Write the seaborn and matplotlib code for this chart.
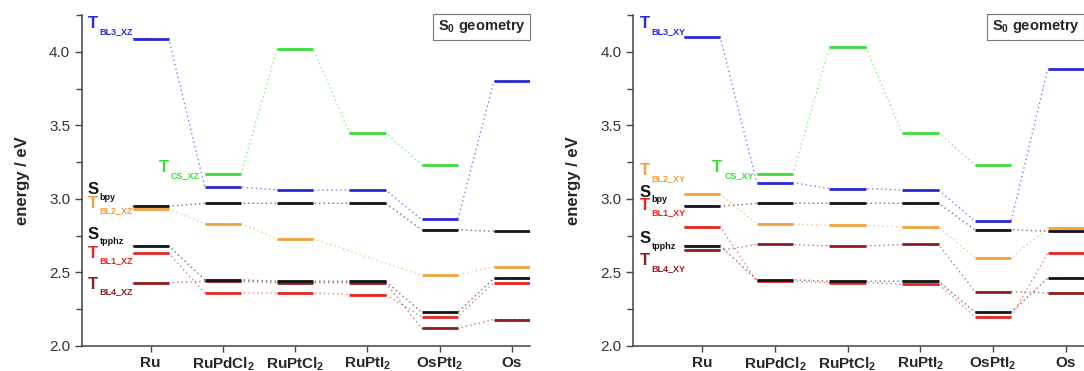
import numpy as np
import pandas as pd
import matplotlib
matplotlib.use('Agg')
import matplotlib.pyplot as plt
from matplotlib.ticker import MultipleLocator
import seaborn as sns

nan = np.nan

# compounds along the x axis
compounds = ['Ru', r'RuPdCl$_\mathbf{2}$', r'RuPtCl$_\mathbf{2}$', r'RuPtI$_\mathbf{2}$',
             r'OsPtI$_\mathbf{2}$', 'Os']

# left panel (XZ), energies in eV
bl3_xz = [4.09, 3.08, 3.06, 3.06, 2.86, 3.80]
cs_xz = [nan, 3.17, 4.02, 3.45, 3.23, nan]
sbpy_xz = [2.95, 2.97, 2.97, 2.97, 2.79, 2.78]
bl2_xz = [2.93, 2.83, 2.73, nan, 2.48, 2.54]
stpphz_xz = [2.68, 2.45, 2.44, 2.44, 2.23, 2.46]
bl1_xz = [2.63, 2.36, 2.36, 2.35, 2.20, 2.43]
bl4_xz = [2.43, 2.44, 2.43, 2.43, 2.12, 2.18]

# right panel (XY)
bl3_xy = [4.10, 3.11, 3.07, 3.06, 2.85, 3.88]
cs_xy = [nan, 3.17, 4.03, 3.45, 3.23, nan]
sbpy_xy = [2.95, 2.97, 2.97, 2.97, 2.79, 2.78]
bl2_xy = [3.03, 2.83, 2.82, 2.81, 2.60, 2.80]
stpphz_xy = [2.68, 2.45, 2.44, 2.44, 2.23, 2.46]
bl1_xy = [2.81, 2.44, 2.43, 2.42, 2.20, 2.63]
bl4_xy = [2.65, 2.69, 2.68, 2.69, 2.37, 2.36]

colors = {'bl3': '#2a2ad0', 'cs': '#3ddc3d', 'sbpy': '#141414', 'bl2': '#f0a040',
          'stpphz': '#141414', 'bl1': '#e02828', 'bl4': '#8e1e1e'}
# drawing order (last on top)
order = ['bl3', 'cs', 'bl2', 'sbpy', 'bl1', 'bl4', 'stpphz']

panels = {
    'XZ': {'bl3': bl3_xz, 'cs': cs_xz, 'sbpy': sbpy_xz, 'bl2': bl2_xz,
           'stpphz': stpphz_xz, 'bl1': bl1_xz, 'bl4': bl4_xz},
    'XY': {'bl3': bl3_xy, 'cs': cs_xy, 'sbpy': sbpy_xy, 'bl2': bl2_xy,
           'stpphz': stpphz_xy, 'bl1': bl1_xy, 'bl4': bl4_xy},
}

# label text: (main letter, subscript, state, x, baseline y)
labels = {
    'XZ': [('T', 'BL3_XZ', 'bl3', 0.13, 4.16), ('T', 'CS_XZ', 'cs', 1.12, 3.18),
           ('S', 'bpy', 'sbpy', 0.13, 3.03), ('T', 'BL2_XZ', 'bl2', 0.13, 2.94),
           ('S', 'tpphz', 'stpphz', 0.13, 2.73), ('T', 'BL1_XZ', 'bl1', 0.13, 2.60),
           ('T', 'BL4_XZ', 'bl4', 0.13, 2.39)],
    'XY': [('T', 'BL3_XY', 'bl3', 0.14, 4.16), ('T', 'BL2_XY', 'bl2', 0.14, 3.16),
           ('T', 'CS_XY', 'cs', 1.14, 3.18), ('S', 'bpy', 'sbpy', 0.14, 3.015),
           ('T', 'BL1_XY', 'bl1', 0.14, 2.925), ('S', 'tpphz', 'stpphz', 0.14, 2.70),
           ('T', 'BL4_XY', 'bl4', 0.14, 2.55)],
}

sns.set_style('ticks')
plt.rcParams['font.family'] = ['Liberation Sans', 'DejaVu Sans']
plt.rcParams['mathtext.fontset'] = 'custom'
plt.rcParams['mathtext.rm'] = 'Liberation Sans'
plt.rcParams['mathtext.bf'] = 'Liberation Sans:bold'
plt.rcParams['mathtext.it'] = 'Liberation Sans:bold'

half = 0.25
fig = plt.figure(figsize=(10.84, 3.71), dpi=100)
ax_pos = {'XZ': [0.0756, 0.0674, 0.4134, 0.8922], 'XY': [0.584, 0.0674, 0.416, 0.8922]}

for key, states in panels.items():
    ax = fig.add_axes(ax_pos[key])
    # long-form tables: levels (segments) and connectors (path per state)
    lev_rows, con_rows = [], []
    for st in order:
        for i, e in enumerate(states[st]):
            if np.isnan(e):
                continue
            pos = i + 1
            for xx in (pos - half, pos + half):
                lev_rows.append({'state': st, 'seg': f'{st}_{i}', 'x': xx, 'E': e})
                con_rows.append({'state': st, 'x': xx, 'E': e})
    lev = pd.DataFrame(lev_rows)
    con = pd.DataFrame(con_rows)

    sns.lineplot(data=con, x='x', y='E', hue='state', units='state', estimator=None,
                 palette=colors, hue_order=order, legend=False, ax=ax,
                 linestyle=(0, (1, 2.2)), lw=1.0, alpha=0.6, sort=True)
    sns.lineplot(data=lev, x='x', y='E', hue='state', units='seg', estimator=None,
                 palette=colors, hue_order=order, legend=False, ax=ax,
                 lw=2.0, solid_capstyle='butt')

    for main, sub, st, lx, ly in labels[key]:
        c = colors[st]
        ax.text(lx, ly, main, color=c, fontsize=12, fontweight='bold', va='baseline')
        ax.annotate(sub, xy=(lx, ly), xytext=(8.5, -4), textcoords='offset points',
                    color=c, fontsize=6.5, fontweight='bold', va='baseline')

    ax.text(0.99, 0.99, r'S$_\mathbf{0}$ geometry', transform=ax.transAxes,
            ha='right', va='top', fontsize=10.5, fontweight='bold',
            bbox=dict(boxstyle='square,pad=0.3', fc='white', ec='#777777', lw=0.8))

    ax.set_xlim(0.05, 6.25)
    ax.set_ylim(2.0, 4.25)
    ax.set_xticks(range(1, 7))
    ax.set_xticklabels(compounds, fontsize=11, fontweight='bold')
    ax.yaxis.set_major_locator(MultipleLocator(0.5))
    ax.yaxis.set_minor_locator(MultipleLocator(0.25))
    ax.set_yticks(np.arange(2.0, 4.01, 0.5))
    ax.set_yticklabels([f'{v:.1f}' for v in np.arange(2.0, 4.01, 0.5)],
                       fontsize=11, color='#333333')
    ax.tick_params(axis='y', which='major', direction='out', length=5, width=1, color='#444444')
    ax.tick_params(axis='y', which='minor', direction='out', length=4, width=1, color='#444444')
    ax.tick_params(axis='x', direction='out', length=4, width=1, color='#444444', pad=3)
    ax.set_xlabel('')
    ax.set_ylabel('energy / eV', fontsize=12, fontweight='bold', labelpad=14)
    sns.despine(ax=ax)
    for sp in ('left', 'bottom'):
        ax.spines[sp].set_color('#444444')
        ax.spines[sp].set_linewidth(1.1)

fig.savefig('out.png', dpi=100)
